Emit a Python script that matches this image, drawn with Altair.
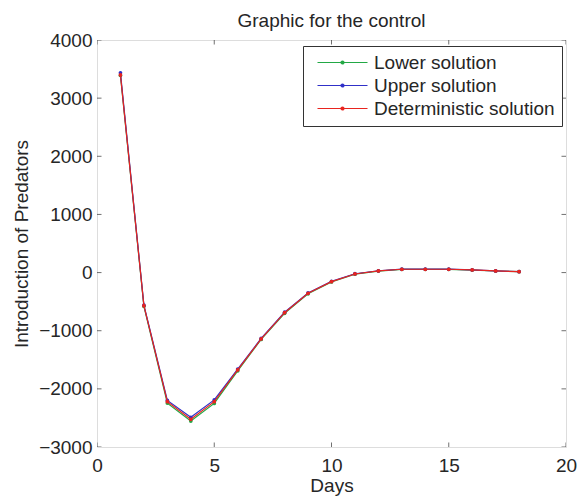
import altair as alt
import pandas as pd

# ---- data ----
days = list(range(1, 19))
lower = [3390, -580, -2245, -2553, -2250, -1690, -1150, -700, -365, -162, -28, 25, 55, 55, 55, 43, 27, 15]
upper = [3435, -560, -2200, -2490, -2190, -1660, -1132, -682, -350, -150, -20, 31, 59, 59, 59, 47, 29, 17]
deterministic = [3400, -569, -2220, -2524, -2220, -1675, -1142, -690, -357, -156, -24, 28, 57, 57, 57, 45, 28, 16]
series_names = ["Lower solution", "Upper solution", "Deterministic solution"]
series_colors = ["#22a845", "#3030c8", "#e8241f"]
x_ticks = [0, 5, 10, 15, 20]
y_ticks = [-3000, -2000, -1000, 0, 1000, 2000, 3000, 4000]
x_domain = [0, 20]
y_domain = [-3000, 4000]

FONT = "Liberation Sans"
TXT = "#262626"
AX = "#333333"
X_TITLE = "Days"
Y_TITLE = "Introduction of Predators"

rows = []
for name, vals in zip(series_names, [lower, upper, deterministic]):
    for d, v in zip(days, vals):
        rows.append({"day": d, "value": v, "series": name})
df = pd.DataFrame(rows)

xs = alt.Scale(domain=x_domain, nice=False, zero=False)
ys = alt.Scale(domain=y_domain, nice=False, zero=False)

x_axis = alt.Axis(values=x_ticks, ticks=False, domain=False, grid=False, format="d",
                  labelFontSize=19, labelFont=FONT, labelColor=TXT, labelPadding=9,
                  labelFlush=False, labelOverlap=False,
                  titleFontSize=19, titleFont=FONT, titleColor=TXT, titleFontWeight="normal",
                  titlePadding=1)
y_axis = alt.Axis(values=y_ticks, ticks=False, domain=False, grid=False, format="d",
                  labelFontSize=19, labelFont=FONT, labelColor=TXT, labelPadding=5,
                  labelFlush=False, labelOverlap=False,
                  titleFontSize=19, titleFont=FONT, titleColor=TXT, titleFontWeight="normal",
                  titlePadding=7)

legend = alt.Legend(
    title=None, orient="none", legendX=206, legendY=6,
    labelFontSize=19, labelFont=FONT, labelColor=TXT, labelLimit=400,
    symbolType="M-0.4,0L9.6,0M4.3,0A0.3,0.3,0,1,1,4.9,0A0.3,0.3,0,1,1,4.3,0Z",
    symbolSize=100, symbolStrokeWidth=1.2, labelOffset=45,
    strokeColor=AX, fillColor="white", padding=7, rowPadding=3,
)

color = alt.Color("series:N", scale=alt.Scale(domain=series_names, range=series_colors),
                  sort=series_names, legend=legend)

base = alt.Chart(df)
layers = []
for name in series_names:
    layers.append(
        base.transform_filter(alt.datum.series == name)
        .mark_line(strokeWidth=1.2, clip=True,
                   point=alt.OverlayMarkDef(filled=True, size=14))
        .encode(
            x=alt.X("day:Q", scale=xs, axis=x_axis, title=X_TITLE),
            y=alt.Y("value:Q", scale=ys, axis=y_axis, title=Y_TITLE),
            color=color,
        )
    )

xt = pd.DataFrame({"v": x_ticks})
yt = pd.DataFrame({"v": y_ticks})
tick_kw = dict(size=9, thickness=1, color=AX, clip=True)
for yd in y_domain:
    layers.append(
        alt.Chart(xt).mark_tick(orient="vertical", **tick_kw).encode(
            x=alt.X("v:Q", scale=xs, axis=x_axis, title=X_TITLE),
            y=alt.YDatum(yd, scale=ys, axis=y_axis, title=Y_TITLE),
        )
    )
for xd in x_domain:
    layers.append(
        alt.Chart(yt).mark_tick(orient="horizontal", **tick_kw).encode(
            x=alt.XDatum(xd, scale=xs, axis=x_axis, title=X_TITLE),
            y=alt.Y("v:Q", scale=ys, axis=y_axis, title=Y_TITLE),
        )
    )

chart = alt.layer(*layers).properties(
    width=469, height=407,
    title=alt.TitleParams("Graphic for the control", fontSize=19, font=FONT, color=TXT,
                          fontWeight="normal", anchor="middle", baseline="alphabetic", offset=-15),
    autosize=alt.AutoSizeParams(type="none"),
    padding={"left": 97, "top": 40, "right": 16, "bottom": 49},
).configure_view(stroke=AX, strokeWidth=1).configure(background="white")

chart.save("out.html", embed_options={"renderer": "svg", "actions": False})
